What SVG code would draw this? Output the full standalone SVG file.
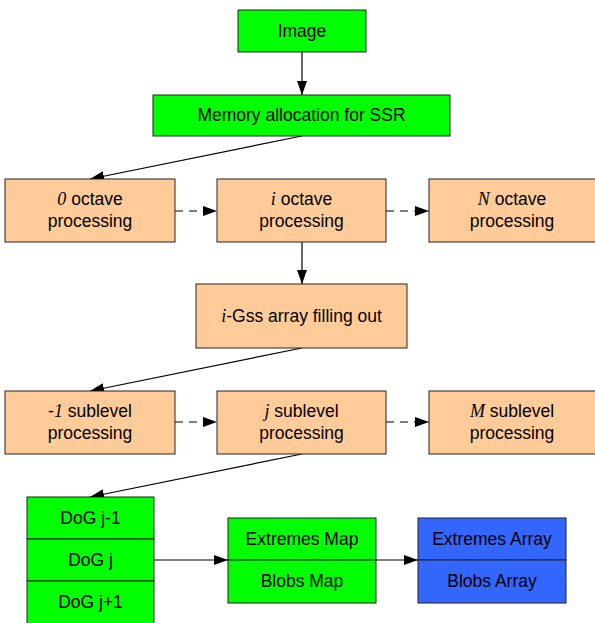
<svg xmlns="http://www.w3.org/2000/svg" width="595" height="623" viewBox="0 0 595 623">
<style>
text{font-family:"Liberation Sans",Arial,sans-serif;font-size:17.5px;fill:#000;text-anchor:middle}
.it{font-family:"Liberation Serif","Times New Roman",serif;font-style:italic;font-size:18px}
.g{fill:#00FF00;stroke:#222;stroke-width:1}
.o{fill:#FFCC99;stroke:#222;stroke-width:1}
.b{fill:#3366FF;stroke:#222;stroke-width:1}
.c{stroke:#000;stroke-width:1.2;fill:none}
.d{stroke:#000;stroke-width:1.2;fill:none;stroke-dasharray:8,6}
</style>
<defs>
<marker id="a" markerWidth="14" markerHeight="10" refX="14" refY="5" orient="auto" markerUnits="userSpaceOnUse">
<path d="M0,0 L14,5 L0,10 z" fill="#000"/>
</marker>
</defs>
<rect width="595" height="623" fill="#fff"/>
<g id="connectors">
<line class="c" x1="302" y1="52" x2="302" y2="95" marker-end="url(#a)"/>
<line class="c" x1="302" y1="136" x2="90" y2="179" marker-end="url(#a)"/>
<line class="d" x1="175" y1="211" x2="217" y2="211" marker-end="url(#a)"/>
<line class="d" x1="386" y1="211" x2="429" y2="211" marker-end="url(#a)"/>
<line class="c" x1="302" y1="242" x2="302" y2="284" marker-end="url(#a)"/>
<line class="c" x1="302" y1="348" x2="90" y2="391" marker-end="url(#a)"/>
<line class="d" x1="175" y1="422" x2="217" y2="422" marker-end="url(#a)"/>
<line class="d" x1="386" y1="422" x2="429" y2="422" marker-end="url(#a)"/>
<line class="c" x1="302" y1="454" x2="90" y2="497" marker-end="url(#a)"/>
<line class="c" x1="154" y1="560" x2="228" y2="560" marker-end="url(#a)"/>
<line class="c" x1="376" y1="560" x2="418" y2="560" marker-end="url(#a)"/>
</g>
<g id="image"><rect class="g" x="238" y="10" width="128" height="42"/><text x="302" y="37">Image</text></g>
<g id="memory"><rect class="g" x="153" y="95" width="297" height="41"/><text x="301.5" y="121">Memory allocation for SSR</text></g>
<g id="oct0"><rect class="o" x="5" y="179" width="170" height="63"/><text x="90" y="205"><tspan class="it">0</tspan> octave</text><text x="90" y="227">processing</text></g>
<g id="octi"><rect class="o" x="217" y="179" width="169" height="63"/><text x="301.5" y="205"><tspan class="it">i</tspan> octave</text><text x="301.5" y="227">processing</text></g>
<g id="octN"><rect class="o" x="429" y="179" width="167" height="63"/><text x="512" y="205"><tspan class="it">N</tspan> octave</text><text x="512" y="227">processing</text></g>
<g id="gss"><rect class="o" x="196" y="284" width="211" height="64"/><text x="301.5" y="322"><tspan class="it">i</tspan>-Gss array filling out</text></g>
<g id="sub-1"><rect class="o" x="5" y="391" width="170" height="63"/><text x="90" y="417">-<tspan class="it">1</tspan> sublevel</text><text x="90" y="439">processing</text></g>
<g id="subj"><rect class="o" x="217" y="391" width="169" height="63"/><text x="301.5" y="417"><tspan class="it">j</tspan> sublevel</text><text x="301.5" y="439">processing</text></g>
<g id="subM"><rect class="o" x="429" y="391" width="167" height="63"/><text x="512" y="417"><tspan class="it">M</tspan> sublevel</text><text x="512" y="439">processing</text></g>
<g id="dog">
<rect class="g" x="27" y="497" width="127" height="42"/><text x="90.5" y="524">DoG j-1</text>
<rect class="g" x="27" y="539" width="127" height="42"/><text x="90.5" y="566">DoG j</text>
<rect class="g" x="27" y="581" width="127" height="44"/><text x="90.5" y="608">DoG j+1</text>
</g>
<g id="maps">
<rect class="g" x="228" y="518" width="148" height="42"/><text x="302" y="545">Extremes Map</text>
<rect class="g" x="228" y="560" width="148" height="43"/><text x="302" y="587">Blobs Map</text>
</g>
<g id="arrays">
<rect class="b" x="418" y="518" width="148" height="42"/><text x="492" y="545">Extremes Array</text>
<rect class="b" x="418" y="560" width="148" height="43"/><text x="492" y="587">Blobs Array</text>
</g>
</svg>
